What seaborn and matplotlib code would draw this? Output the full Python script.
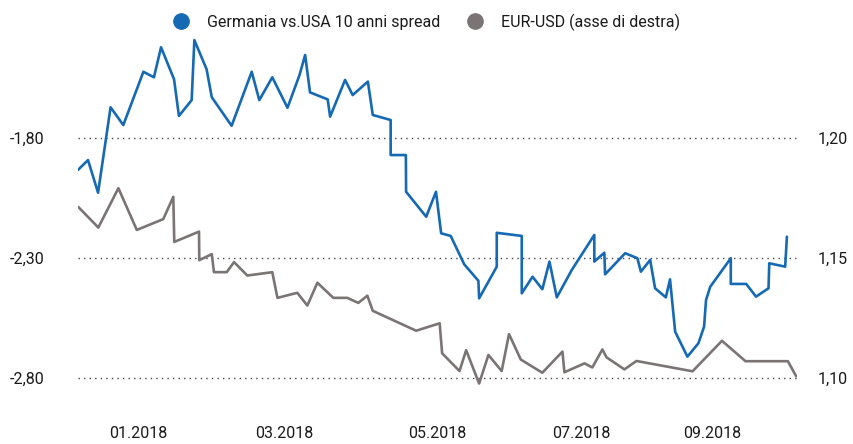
import matplotlib
matplotlib.use("Agg")
import matplotlib.pyplot as plt
from matplotlib.lines import Line2D
import seaborn as sns
import pandas as pd

# x = days relative to 01.01.2018
spread_days = [-24.5, -20.4, -16.3, -11.2, -6.0, 2.2, 6.5, 9.4, 14.7, 16.7, 21.9, 23.0, 28.0, 30.1,
               38.2, 46.4, 49.5, 54.8, 61.0, 65.9, 68.2, 70.2, 77.4, 78.4, 84.5, 87.6, 93.8, 95.8,
               103.1, 103.1, 109.3, 109.4, 117.6, 121.6, 123.7, 127.6, 133.1, 138.9, 139.2, 146.4,
               146.4, 156.6, 156.6, 161.0, 165.0, 167.9, 170.9, 177.0, 186.2, 186.2, 190.3, 190.6,
               198.8, 203.8, 205.2, 209.0, 211.0, 215.4, 217.1, 219.2, 224.2, 228.7, 231.0, 231.8,
               233.5, 241.9, 241.9, 248.2, 252.2, 257.3, 257.6, 264.1, 264.8]
spread_vals = [-1.933, -1.892, -2.028, -1.672, -1.746, -1.524, -1.547, -1.422, -1.555, -1.708,
               -1.642, -1.392, -1.514, -1.630, -1.749, -1.524, -1.642, -1.547, -1.674, -1.538,
               -1.454, -1.610, -1.639, -1.711, -1.558, -1.621, -1.565, -1.704, -1.725, -1.871,
               -1.871, -2.024, -2.128, -2.024, -2.197, -2.208, -2.326, -2.395, -2.468, -2.336,
               -2.195, -2.208, -2.447, -2.378, -2.430, -2.315, -2.464, -2.350, -2.204, -2.315,
               -2.278, -2.368, -2.280, -2.301, -2.357, -2.308, -2.426, -2.464, -2.389, -2.607,
               -2.711, -2.655, -2.586, -2.475, -2.420, -2.301, -2.408, -2.408, -2.461, -2.426,
               -2.322, -2.336, -2.211]

eur_days = [-24.4, -16.2, -8.0, -0.5, 10.3, 14.4, 14.8, 24.9, 25.0, 30.1, 31.0, 36.2, 39.2,
            44.6, 54.8, 56.9, 65.0, 69.1, 73.2, 79.7, 85.4, 89.9, 93.6, 95.8, 113.5, 123.1,
            124.1, 131.2, 133.9, 139.2, 143.0, 148.4, 151.4, 156.2, 165.0, 173.2, 174.0, 182.2,
            185.4, 189.5, 191.2, 198.5, 203.4, 226.3, 238.3, 247.9, 265.2, 268.6]
eur_vals = [1.1713, 1.1627, 1.1791, 1.1617, 1.1662, 1.1755, 1.1567, 1.1610, 1.1491, 1.1516,
            1.1441, 1.1441, 1.1483, 1.1427, 1.1441, 1.1334, 1.1355, 1.1302, 1.1397, 1.1334,
            1.1334, 1.1313, 1.1343, 1.1280, 1.1197, 1.1228, 1.1103, 1.1029, 1.1116, 1.0977,
            1.1096, 1.1029, 1.1183, 1.1077, 1.1022, 1.1110, 1.1024, 1.1061, 1.1044, 1.1119,
            1.1086, 1.1036, 1.1071, 1.1028, 1.1155, 1.1070, 1.1070, 1.1007]

tick_pos = [0, 59.6, 122.0, 180.8, 234.3]
tick_labels = ["01.2018", "03.2018", "05.2018", "07.2018", "09.2018"]
left_ticks = [-2.80, -2.30, -1.80]
right_ticks = [1.10, 1.15, 1.20]

BLUE = "#1669b3"
GREY = "#7a7574"

sns.set_theme(style="white")
plt.rcParams["font.family"] = ["Roboto", "DejaVu Sans"]

fig = plt.figure(figsize=(8.54, 4.44), dpi=100)
ax = fig.add_axes([0.0913, 0.1216, 0.8419, 0.8108])
ax2 = ax.twinx()

df1 = pd.DataFrame({"x": spread_days, "y": spread_vals})
df2 = pd.DataFrame({"x": eur_days, "y": eur_vals})
sns.lineplot(data=df1, x="x", y="y", ax=ax, color=BLUE, linewidth=1.9, sort=False, estimator=None)
sns.lineplot(data=df2, x="x", y="y", ax=ax2, color=GREY, linewidth=1.9, sort=False, estimator=None)

ax.set_xlim(-24.5, 268.9)
ax.set_ylim(-2.85, -1.35)
ax2.set_ylim(1.095, 1.245)

for a in (ax, ax2):
    for s in a.spines.values():
        s.set_visible(False)
    a.set_xlabel("")
    a.set_ylabel("")

for v in left_ticks:
    ax.axhline(v, color="#444444", linestyle=(0, (1, 3)), linewidth=1.0, zorder=0)

ax.set_yticks(left_ticks)
ax.set_yticklabels([f"{v:.2f}".replace(".", ",") for v in left_ticks])
ax2.set_yticks(right_ticks)
ax2.set_yticklabels([f"{v:.2f}".replace(".", ",") for v in right_ticks])
ax.set_xticks(tick_pos)
ax.set_xticklabels(tick_labels)

ax2.tick_params(axis="y", length=0, pad=15, labelsize=11.5, labelcolor="#1a1a1a")
ax.tick_params(axis="x", length=0, pad=26, labelsize=11.5, labelcolor="#1a1a1a")
ax.tick_params(axis="y", length=0, pad=49, labelsize=11.5, labelcolor="#1a1a1a")
for lab in ax.get_yticklabels():
    lab.set_horizontalalignment("left")

handles = [Line2D([], [], marker="o", linestyle="none", markersize=11, color=BLUE),
           Line2D([], [], marker="o", linestyle="none", markersize=11, color=GREY)]
fig.legend(handles, ["Germania vs.USA 10 anni spread", "EUR-USD (asse di destra)"],
           loc="center", bbox_to_anchor=(0.495, 0.95), ncol=2, frameon=False,
           fontsize=11.5, handletextpad=0.6, columnspacing=1.2, labelcolor="#1a1a1a")

fig.savefig("out.png", dpi=100)
